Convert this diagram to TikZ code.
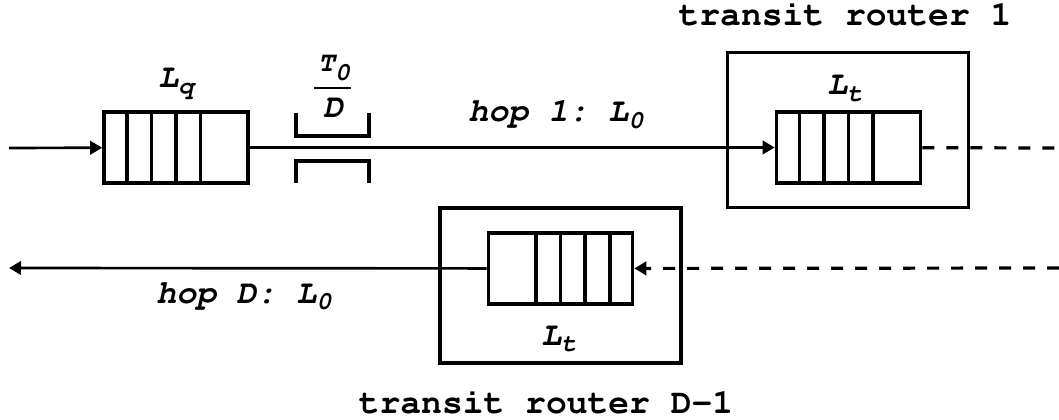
\documentclass[tikz,border=0pt]{standalone}
\usepackage[T1]{fontenc}
\usepackage{courier}
\usepackage{tikz}
\usetikzlibrary{arrows.meta}
\usetikzlibrary{calc}
\newcommand{\lsub}[2][0.2em]{\raisebox{-#1}{\fontsize{19}{19}\selectfont #2}}

\begin{document}
\begin{tikzpicture}[x=0.75pt, y=-0.75pt, font=\ttfamily\bfseries\frenchspacing\fontsize{26}{30}\selectfont]
    \tikzstyle{qu} = [rectangle, draw=black, line width=2.7pt, minimum width=108pt, minimum height=53.25pt, inner sep=0pt];
    \tikzstyle{rt} = [rectangle, draw=black, line width=2.7pt, minimum width=181pt, minimum height=116.5pt, inner sep=0pt];
    \tikzstyle{lb} = [anchor=base, inner sep=0pt, font=\ttfamily\bfseries\slshape\frenchspacing\fontsize{25}{28}\selectfont];
    \tikzstyle{tx} = [anchor=base, inner sep=0pt];
    \useasboundingbox (0,0) rectangle (1059,420);

    \node (r_1) at (848, 130)     [rt] {};
    \node (r_D) at (560.5, 285.5) [rt] {};
    \node (q_s) at (176, 147.5)   [qu] {};
    \node (q_1) at (848.5, 147.5) [qu] {};
    \node (q_D) at (560.5, 268.5) [qu] {};

    \foreach \i in {1,...,4} {
      \draw[line width=2.7pt] ($(q_s.north west)!\i/6!(q_s.north east)$) -- ($(q_s.south west)!\i/6!(q_s.south east)$);
      \draw[line width=2.7pt] ($(q_1.north west)!\i/6!(q_1.north east)$) -- ($(q_1.south west)!\i/6!(q_1.south east)$);
      \draw[line width=2.7pt] ($(q_D.north east)!\i/6!(q_D.north west)$) -- ($(q_D.south east)!\i/6!(q_D.south west)$);
    }

    % delay element
    \draw[line width=2.7pt] (296,113) -- (296,136) -- (369,136) -- (369,113);
    \draw[line width=2.7pt] (296,183) -- (296,161) -- (369,161) -- (369,183);
    \node (t_0) at (334, 72)  [lb, font=\ttfamily\bfseries\slshape\fontsize{21}{24}\selectfont] {T\lsub[0.3em]{0}};
    \node (d_0) at (333, 118) [lb] {D};
    \draw[line width=2pt] (314,88) -- (351,88);

    \node (l_q) at (176, 88)  [lb] {L\lsub{q}};
    \node (l_1) at (845, 95)  [lb] {L\lsub{t}};
    \node (l_D) at (559, 345) [lb] {L\lsub{t}};
    \node (h_1) at (556, 122) [lb] {hop 1: L\lsub{0}};
    \node (h_D) at (244, 303) [lb] {hop D: L\lsub{0}};
    \node (n_1) at (845, 26)  [tx] {transit router 1};
    \node (n_D) at (546, 413) [tx] {transit router D-1};

    \coordinate (in_s)  at (9, 148);
    \coordinate (out_1) at (1059, 148);
    \coordinate (in_D)  at (1059, 268);
    \coordinate (out_D) at (9, 268);

    \begin{scope}[-{Triangle[length=9pt, width=10pt]}, line width=2pt]
      \draw (in_s) -- (q_s);
      \draw (q_s) -- (q_1);
      \draw (q_D) -- (out_D);
      \draw[dash pattern=on 9pt off 9pt, line width=2.4pt] (in_D) -- (q_D);
    \end{scope}
    \draw[dash pattern=on 9pt off 9pt, line width=2.4pt] (q_1) -- (out_1);
  \end{tikzpicture}
\end{document}
